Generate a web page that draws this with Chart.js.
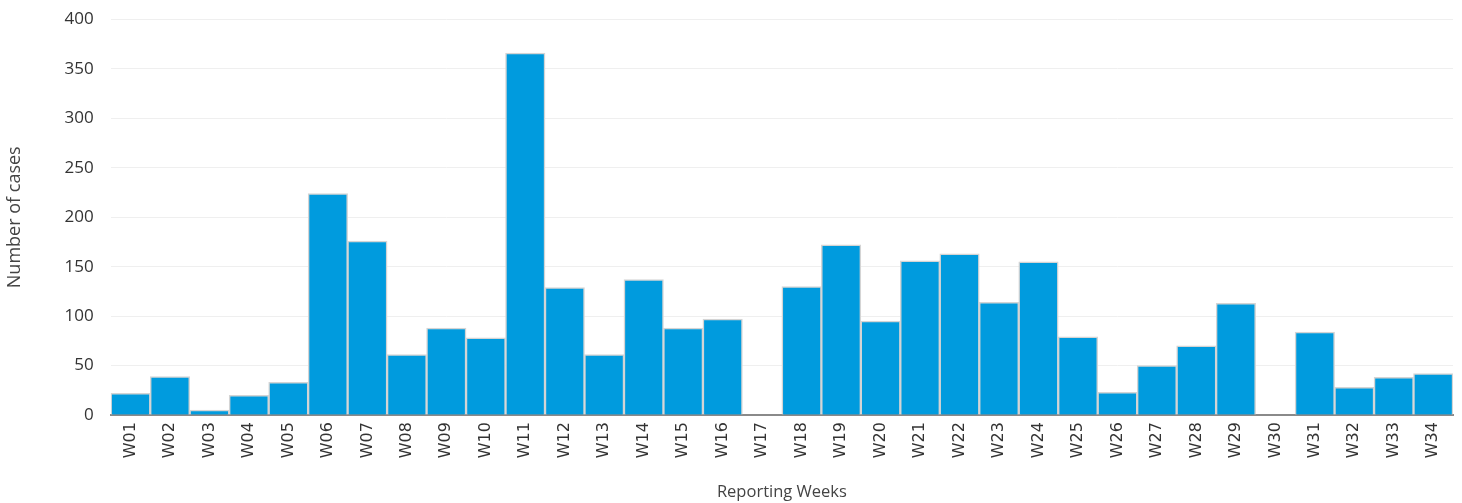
<!DOCTYPE html>
<html>
<head>
<meta charset="utf-8">
<script src="https://cdn.jsdelivr.net/npm/chart.js@4/dist/chart.umd.min.js"></script>
<style>
  html, body { margin: 0; padding: 0; background: #fff; }
  #wrap { width: 1462px; height: 503px; position: relative; }
</style>
</head>
<body>
<div id="wrap"><canvas id="c"></canvas></div>
<script>
const weeks = ["W01","W02","W03","W04","W05","W06","W07","W08","W09","W10","W11","W12","W13","W14","W15","W16","W17","W18","W19","W20","W21","W22","W23","W24","W25","W26","W27","W28","W29","W30","W31","W32","W33","W34"];
const cases = [22,39,5,20,33,224,176,61,88,78,366,129,61,137,88,97,0,130,172,95,156,163,114,155,79,23,50,70,113,0,84,28,38,42];
const yTicks = [0,50,100,150,200,250,300,350,400];

new Chart(document.getElementById('c'), {
  type: 'bar',
  data: {
    labels: weeks,
    datasets: [{
      label: 'Number of cases',
      data: cases,
      backgroundColor: '#009bde',
      borderColor: '#d4d4d4',
      borderWidth: 1.5,
      borderSkipped: 'start',
      barPercentage: 1.0,
      categoryPercentage: 1.0
    }]
  },
  options: {
    responsive: true,
    maintainAspectRatio: false,
    animation: false,
    layout: { padding: { top: 19.5, right: 9, bottom: 1, left: 4 } },
    plugins: { legend: { display: false }, tooltip: { enabled: false } },
    scales: {
      x: {
        grid: { display: false, drawTicks: false },
        border: { display: true, color: '#8a8a8a', width: 2 },
        ticks: {
          minRotation: 90, maxRotation: 90, autoSkip: false,
          color: '#333', padding: 7,
          font: { family: 'DejaVu Sans', size: 16 }
        },
        title: {
          display: true, text: 'Reporting Weeks', color: '#444',
          font: { family: 'Open Sans', size: 16.5 }, padding: { top: 17, bottom: 0 }
        }
      },
      y: {
        min: 0, max: 400,
        afterBuildTicks: (axis) => { axis.ticks = yTicks.map(v => ({ value: v })); },
        afterFit: (axis) => { axis.paddingTop = 0; axis.paddingBottom = 0; },
        grid: { color: '#efefef', lineWidth: 1, drawTicks: false },
        border: { display: false },
        ticks: {
          color: '#333', padding: 17,
          font: { family: 'Open Sans', size: 17 }
        },
        title: {
          display: true, text: 'Number of cases', color: '#444',
          font: { family: 'Open Sans', size: 18 }, padding: { top: 0, bottom: 22 }
        }
      }
    }
  }
});
</script>
</body>
</html>
